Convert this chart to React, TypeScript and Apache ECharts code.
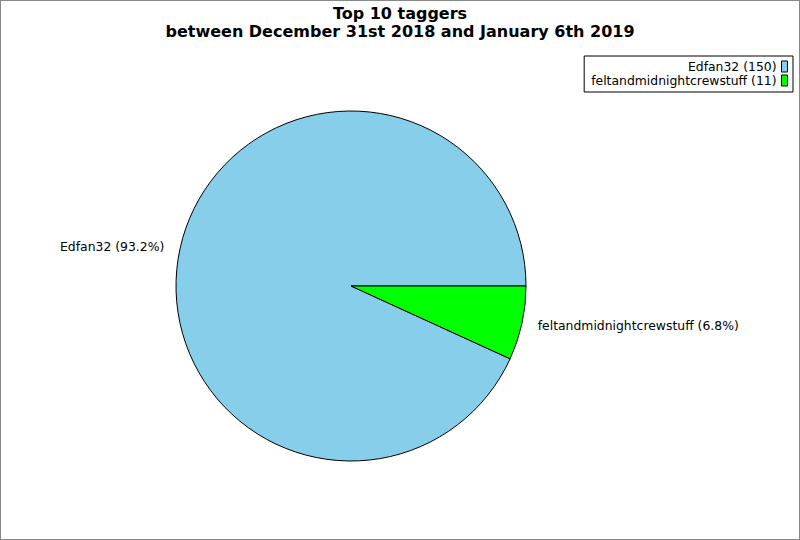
import React, { useEffect, useRef } from "react";
import * as echarts from "echarts";

const titleLines = ["Top 10 taggers", "between December 31st 2018 and January 6th 2019"];
const names = ["Edfan32", "feltandmidnightcrewstuff"];
const values = [150, 11];
const colors = ["#87CEEB", "#00FF00"];

export default function App() {
  const ref = useRef<HTMLDivElement>(null);
  useEffect(() => {
    if (!ref.current) return;
    const chart = echarts.init(ref.current, null, { renderer: "svg" });
    const total = values.reduce((a, b) => a + b, 0);
    chart.setOption({
      animation: false,
      backgroundColor: "#ffffff",
      textStyle: { fontFamily: "DejaVu Sans" },
      title: {
        text: titleLines.join("\n"),
        left: "center",
        top: -2,
        textStyle: {
          fontFamily: "DejaVu Sans",
          fontWeight: "bold",
          fontSize: 16,
          lineHeight: 18,
          color: "#000",
        },
      },
      legend: {
        orient: "vertical",
        right: 6,
        top: 55,
        align: "right",
        borderColor: "#000",
        borderWidth: 1,
        padding: [4, 5, 5, 7],
        itemWidth: 6,
        itemHeight: 11,
        itemGap: 1,
        icon: "rect",
        selectedMode: false,
        itemStyle: { borderColor: "#000", borderWidth: 1 },
        textStyle: { fontFamily: "DejaVu Sans", fontSize: 12.4, lineHeight: 13, color: "#000", padding: [0, 0, 0, 0] },
        formatter: (n: string) => {
          const i = names.indexOf(n);
          return `${n} (${values[i]})`;
        },
        data: names,
      },
      series: [
        {
          type: "pie",
          center: [350, 285],
          radius: 175,
          startAngle: 0,
          clockwise: false,
          avoidLabelOverlap: false,
          itemStyle: { borderColor: "#000", borderWidth: 1 },
          emphasis: { disabled: true },
          label: {
            show: true,
            position: "outside",
            fontFamily: "DejaVu Sans",
            fontSize: 12.4,
            color: "#000",
            formatter: (p: any) => `${p.name} (${((p.value / total) * 100).toFixed(1)}%)`,
          },
          labelLine: { show: false, length: 11, length2: 0 },
          data: names.map((n, i) => ({ name: n, value: values[i], itemStyle: { color: colors[i] } })),
        },
      ],
    });
    return () => chart.dispose();
  }, []);
  return (
    <div
      ref={ref}
      style={{
        position: "fixed",
        left: 0,
        top: 0,
        width: 800,
        height: 540,
        boxSizing: "border-box",
        border: "1px solid #888",
      }}
    />
  );
}
